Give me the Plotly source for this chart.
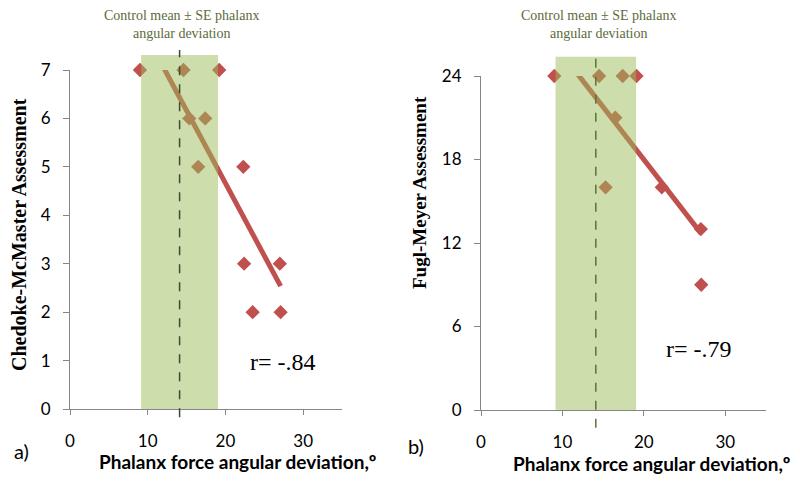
import numpy as np
import plotly.graph_objects as go

# ---- data ----
cm_x = [9.0, 14.6, 19.2, 15.35, 17.4, 16.5, 22.3, 22.4, 27.0, 23.5, 27.1]
cm_y = [7, 7, 7, 6, 6, 5, 5, 3, 3, 2, 2]
fm_x = [9.0, 14.5, 17.4, 19.1, 16.5, 15.3, 22.2, 27.0, 27.05]
fm_y = [24, 24, 24, 24, 21, 16, 16, 13, 9]
control_mean = 14.1
control_se = 4.95
r_left = "r= -.84"
r_right = "r= -.79"
x_ticks = [0, 10, 20, 30]
cm_ticks = [0, 1, 2, 3, 4, 5, 6, 7]
fm_ticks = [0, 6, 12, 18, 24]

# page body has an 8px margin: the figure sits at (8, 8)
OFF = 8
W, H = 800 - OFF, 481 - OFF
RED = "#C0504D"
AXC = "#868686"

def px(xp):
    return (xp - OFF) / W

def py(yp):
    return (481 - yp) / H

fig = go.Figure()

def add_panel(x, y, xa, ya):
    k, b = np.polyfit(x, y, 1)
    xs = np.array([min(x), max(x)])
    fig.add_trace(go.Scatter(x=xs, y=k * xs + b, mode="lines",
                             line=dict(color=RED, width=5),
                             xaxis=xa, yaxis=ya, showlegend=False, hoverinfo="skip"))
    fig.add_trace(go.Scatter(x=x, y=y, mode="markers",
                             marker=dict(symbol="diamond", size=11, color=RED),
                             cliponaxis=False, xaxis=xa, yaxis=ya, showlegend=False))

add_panel(cm_x, cm_y, "x", "y")
add_panel(fm_x, fm_y, "x2", "y2")

# shaded control band + dashed mean line
for xr, yr, top, lt, lb, lc in [("x", "y", 1.044, 1.059, -0.024, "#3E4A30"),
                                ("x2", "y2", 1.058, 1.078, -0.053, "#5C7438")]:
    fig.add_shape(type="rect", xref=xr, yref=yr + " domain",
                  x0=control_mean - control_se, x1=control_mean + control_se,
                  y0=0, y1=top, fillcolor="#9BBB59", opacity=0.5,
                  line=dict(width=0), layer="above")
    fig.add_shape(type="line", xref=xr, yref=yr + " domain",
                  x0=control_mean, x1=control_mean, y0=lb, y1=lt,
                  line=dict(color=lc, width=1.5, dash="dash"), layer="above")

def axis(**kw):
    d = dict(showgrid=False, zeroline=False, showline=True, linecolor=AXC,
             linewidth=1, ticks="outside", tickcolor=AXC, ticklen=5,
             automargin=False,
             tickfont=dict(family="Lato", size=17, color="#000"))
    d.update(kw)
    return d

fig.update_layout(
    template="none",
    width=W, height=H, margin=dict(l=0, r=0, t=0, b=0, pad=0, autoexpand=False),
    plot_bgcolor="white", paper_bgcolor="white",
    xaxis=axis(domain=[px(70), px(342)], range=[0, 35], tickvals=x_ticks,
               anchor="y", ticklabelstandoff=12),
    yaxis=axis(domain=[py(409), py(70)], range=[0, 7], tickvals=cm_ticks,
               anchor="x", ticklabelstandoff=9, ticklen=6),
    xaxis2=axis(domain=[px(481), px(766)], range=[0, 35], tickvals=x_ticks,
                anchor="y2", ticklabelstandoff=12),
    yaxis2=axis(domain=[py(410), py(76)], range=[0, 24], tickvals=fm_ticks,
                anchor="x2", ticklabelstandoff=9, ticklen=6),
)

serif = "Liberation Serif"
ann = [
    dict(x=px(181.5), y=py(24), text="Control mean ± SE phalanx<br>angular deviation",
         font=dict(family=serif, size=14, color="#5B6B3A")),
    dict(x=px(598), y=py(24), text="Control mean ± SE phalanx<br>angular deviation",
         font=dict(family=serif, size=14, color="#5B6B3A")),
    dict(x=px(19), y=py(235), text="<b>Chedoke-McMaster Assessment</b>", textangle=-90,
         font=dict(family=serif, size=20, color="#000")),
    dict(x=px(419), y=py(193), text="<b>Fugl-Meyer Assessment</b>", textangle=-90,
         font=dict(family=serif, size=19, color="#000")),
    dict(x=px(237.5), y=py(461), text="<b>Phalanx force angular deviation,º</b>",
         font=dict(family="Lato", size=19, color="#000")),
    dict(x=px(651), y=py(463), text="<b>Phalanx force angular deviation,º</b>",
         font=dict(family="Lato", size=19, color="#000")),
    dict(x=px(21), y=py(451), text="a)", font=dict(family="Lato", size=20, color="#000")),
    dict(x=px(416), y=py(446), text="b)", font=dict(family="Lato", size=20, color="#000")),
    dict(x=px(282.5), y=py(362), text=r_left, font=dict(family=serif, size=24, color="#000")),
    dict(x=px(698.5), y=py(349), text=r_right, font=dict(family=serif, size=24, color="#000")),
]
for a in ann:
    a.update(xref="paper", yref="paper", showarrow=False, xanchor="center", yanchor="middle")
    fig.add_annotation(**a)

fig.write_html("out.html")
